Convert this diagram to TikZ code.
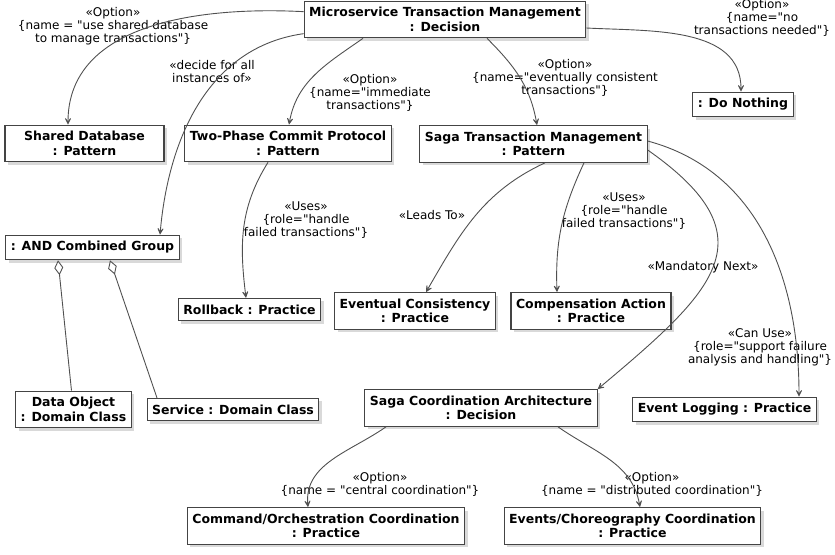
\documentclass[tikz,border=0pt]{standalone}
\usepackage{fontspec}
\setmainfont{DejaVu Sans}[Ligatures=TeXOff]
\usepackage{tikz}
\usetikzlibrary{calc}
\usetikzlibrary{arrows.meta}
\usetikzlibrary{shadows}
\definecolor{linegray}{HTML}{505050}
\definecolor{boxgray}{HTML}{444444}
\tikzstyle{element}=[rectangle,draw=boxgray,line width=1.1pt,fill=white,align=center,font=\bfseries\fontsize{12.5}{14.5}\selectfont,inner xsep=5pt,inner ysep=6.2pt,drop shadow={shadow xshift=3pt,shadow yshift=-3pt,opacity=0.3}]
\tikzstyle{rel}=[font=\fontsize{12}{13}\selectfont,align=center,inner sep=0pt]
\newcommand{\Stereo}[1]{«#1»}

\begin{document}
\begin{tikzpicture}[x=1pt,y=1pt]
	\useasboundingbox (0,0) rectangle (835,-554);

	\tikzstyle{arrow}=[-{Stealth[length=10pt,width=10pt,inset=6.5pt]},linegray,line width=0.9pt];
	\tikzstyle{part}=[{Diamond[open,fill=white,length=15pt,width=9pt]}-,linegray,line width=0.9pt];

	\node (1) [element] at (445,-19.5) {Microservice Transaction Management\\: Decision};
	\node (2) [element,minimum width=159pt] at (84.5,-143.5) {Shared Database\\: Pattern};
	\node (3) [element] at (288,-143.5) {Two-Phase Commit Protocol\\: Pattern};
	\node (4) [element] at (533.5,-144) {Saga Transaction Management\\: Pattern};
	\node (5) [element] at (743,-104.5) {: Do Nothing};
	\node (6) [element] at (92.5,-247.5) {: AND Combined Group};
	\node (7) [element] at (249.5,-309.5) {Rollback : Practice};
	\node (8) [element] at (415,-311) {Eventual Consistency\\: Practice};
	\node (9) [element] at (591,-311) {Compensation Action\\: Practice};
	\node (10) [element] at (73.5,-409.5) {Data Object\\: Domain Class};
	\node (11) [element] at (233,-409.5) {Service : Domain Class};
	\node (12) [element] at (481,-408) {Saga Coordination Architecture\\: Decision};
	\node (13) [element] at (724.5,-409.5) {Event Logging : Practice};
	\node (14) [element] at (326,-526) {Command/Orchestration Coordination\\: Practice};
	\node (15) [element] at (632.5,-526) {Events/Choreography Coordination\\: Practice};

	\node (l1) [rel] at (113,-26) {\Stereo{Option}\\\{name = "use shared database\\to manage transactions"\}};
	\node (l2) [rel] at (212,-72) {\Stereo{decide for all\\instances of}};
	\node (l3) [rel] at (370,-93) {\Stereo{Option}\\\{name="immediate\\transactions"\}};
	\node (l4) [rel] at (565,-78) {\Stereo{Option}\\\{name="eventually consistent\\transactions"\}};
	\node (l5) [rel] at (762,-18) {\Stereo{Option}\\\{name="no\\transactions needed"\}};
	\node (l6) [rel] at (306,-220) {\Stereo{Uses}\\\{role="handle\\failed transactions"\}};
	\node (l7) [rel] at (432,-215) {\Stereo{Leads To}};
	\node (l8) [rel] at (624,-211) {\Stereo{Uses}\\\{role="handle\\failed transactions"\}};
	\node (l9) [rel] at (703,-267) {\Stereo{Mandatory Next}};
	\node (l10) [rel] at (760,-347) {\Stereo{Can Use}\\\{role="support failure\\analysis and handling"\}};
	\node (l11) [rel] at (380,-484) {\Stereo{Option}\\\{name = "central coordination"\}};
	\node (l12) [rel] at (652,-484) {\Stereo{Option}\\\{name = "distributed coordination"\}};

	\path[arrow]
		([yshift=-11pt]1.north west) edge[out=177,in=90] ([xshift=-16.5pt]2.north)
		([yshift=-33pt]1.north west) edge[out=188,in=85] ([xshift=67.5pt]6.north)
		([xshift=-82pt]1.south) edge[out=215,in=80] ([xshift=1pt]3.north)
		([xshift=42pt]1.south) edge[out=315,in=100] ([xshift=3.5pt]4.north)
		([yshift=-8.5pt]1.east) edge[out=357,in=90] ([xshift=-2pt]5.north);
	\path[arrow]
		([xshift=-20pt]3.south) edge[out=238,in=97] ([xshift=-3.5pt]7.north)
		([xshift=11.5pt]4.south) edge[out=205,in=60] ([xshift=11pt]8.north)
		([xshift=50.5pt]4.south) edge[out=245,in=92] ([xshift=-34pt]9.north)
		([yshift=-6pt]4.east) edge[out=325,in=40,looseness=1.6] (12.north east)
		([yshift=3pt]4.east) edge[out=345,in=90] ([xshift=74.5pt]13.north);
	\path[arrow]
		([xshift=-95pt]12.south) edge[out=215,in=95] ([xshift=-18pt]14.north)
		([xshift=77pt]12.south) edge[out=325,in=100] ([xshift=7.5pt]15.north);
	\path[part]
		([xshift=-34.5pt]6.south) edge ([xshift=-2pt]10.north)
		([xshift=17.5pt]6.south) edge ([xshift=-76pt]11.north);
\end{tikzpicture}
\end{document}
